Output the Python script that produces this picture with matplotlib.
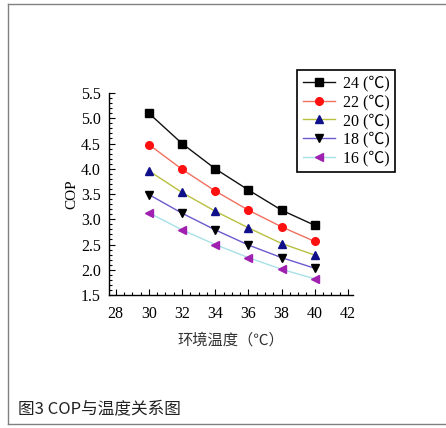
import matplotlib
matplotlib.use("Agg")
import matplotlib.pyplot as plt
from matplotlib.lines import Line2D
from matplotlib.ticker import MultipleLocator

plt.rcParams['font.family'] = ['Liberation Serif', 'Noto Sans CJK SC', 'DejaVu Sans']

# ambient temperature (x) and COP for each indoor temperature
temps = [30, 32, 34, 36, 38, 40]
cop_24 = [5.10, 4.50, 4.00, 3.58, 3.18, 2.88]
cop_22 = [4.48, 3.99, 3.56, 3.18, 2.85, 2.56]
cop_20 = [3.96, 3.53, 3.16, 2.83, 2.52, 2.29]
cop_18 = [3.49, 3.12, 2.79, 2.49, 2.24, 2.03]
cop_16 = [3.13, 2.79, 2.50, 2.24, 2.01, 1.82]
series_labels = ["24 (℃)", "22 (℃)", "20 (℃)", "18 (℃)", "16 (℃)"]

xticks = [28, 30, 32, 34, 36, 38, 40, 42]
yticks = [1.5, 2.0, 2.5, 3.0, 3.5, 4.0, 4.5, 5.0, 5.5]

series = [cop_24, cop_22, cop_20, cop_18, cop_16]
line_colors = ["#111111", "#f07060", "#b8c040", "#6a5acd", "#a8e0e8"]
marker_colors = ["#000000", "#ff1010", "#10108a", "#000000", "#a020b0"]
markers = ["s", "o", "^", "v", "<"]

fig = plt.figure(figsize=(4.46, 4.28), dpi=100)
ax = fig.add_axes([0.2444, 0.3107, 0.547, 0.472])

for vals, lab, lc, mc, mk in zip(series, series_labels, line_colors, marker_colors, markers):
    ax.plot(temps, vals, color=lc, lw=1.0, marker=mk, markersize=5.5,
            markerfacecolor=mc, markeredgecolor=mc, label=lab)

ax.set_xlim(27.6, 42.3)
ax.set_ylim(1.5, 5.5)
ax.set_xticks(xticks)
ax.set_yticks(yticks)
ax.set_yticklabels([f"{v:.1f}" for v in yticks])
ax.xaxis.set_minor_locator(MultipleLocator(0.5))
ax.yaxis.set_minor_locator(MultipleLocator(0.1))
ax.tick_params(which='both', direction='in', labelsize=11.5, width=0.8)
ax.tick_params(which='major', length=4)
ax.tick_params(which='minor', length=2)
ax.tick_params(axis='x', pad=8)
ax.tick_params(axis='y', pad=6)
ax.spines['top'].set_visible(False)
ax.spines['right'].set_visible(False)
for s in ['left', 'bottom']:
    ax.spines[s].set_linewidth(1.0)

ax.set_ylabel("COP", fontsize=11, labelpad=2)
ax.set_xlabel("环境温度（℃）", fontsize=11, family=['Noto Sans CJK SC', 'DejaVu Sans'],
              labelpad=7, color="#333333")

leg = ax.legend(loc='upper left', bbox_to_anchor=(297 / 446, 1 - 70 / 428),
                bbox_transform=fig.transFigure, borderaxespad=0, fancybox=False,
                edgecolor='black', fontsize=11.5, handlelength=2.0, handletextpad=0.5,
                labelspacing=0.17, borderpad=0.35, framealpha=1)
leg.get_frame().set_linewidth(1.2)

# outer frame of the figure panel
fc = "#808080"
fig.add_artist(Line2D([8 / 446, 1.0], [1 - 4 / 428, 1 - 4 / 428], color=fc, lw=1))
fig.add_artist(Line2D([8 / 446, 8 / 446], [1 - 4 / 428, 1 - 424 / 428], color=fc, lw=1))
fig.add_artist(Line2D([8 / 446, 1.0], [1 - 424 / 428, 1 - 424 / 428], color=fc, lw=1))

fig.text(18 / 446, 1 - 409 / 428, "图3 COP与温度关系图", fontsize=12,
         family=['Noto Sans CJK SC', 'DejaVu Sans'], va='center', ha='left', color="#222222")

fig.savefig("out.png", dpi=100)
